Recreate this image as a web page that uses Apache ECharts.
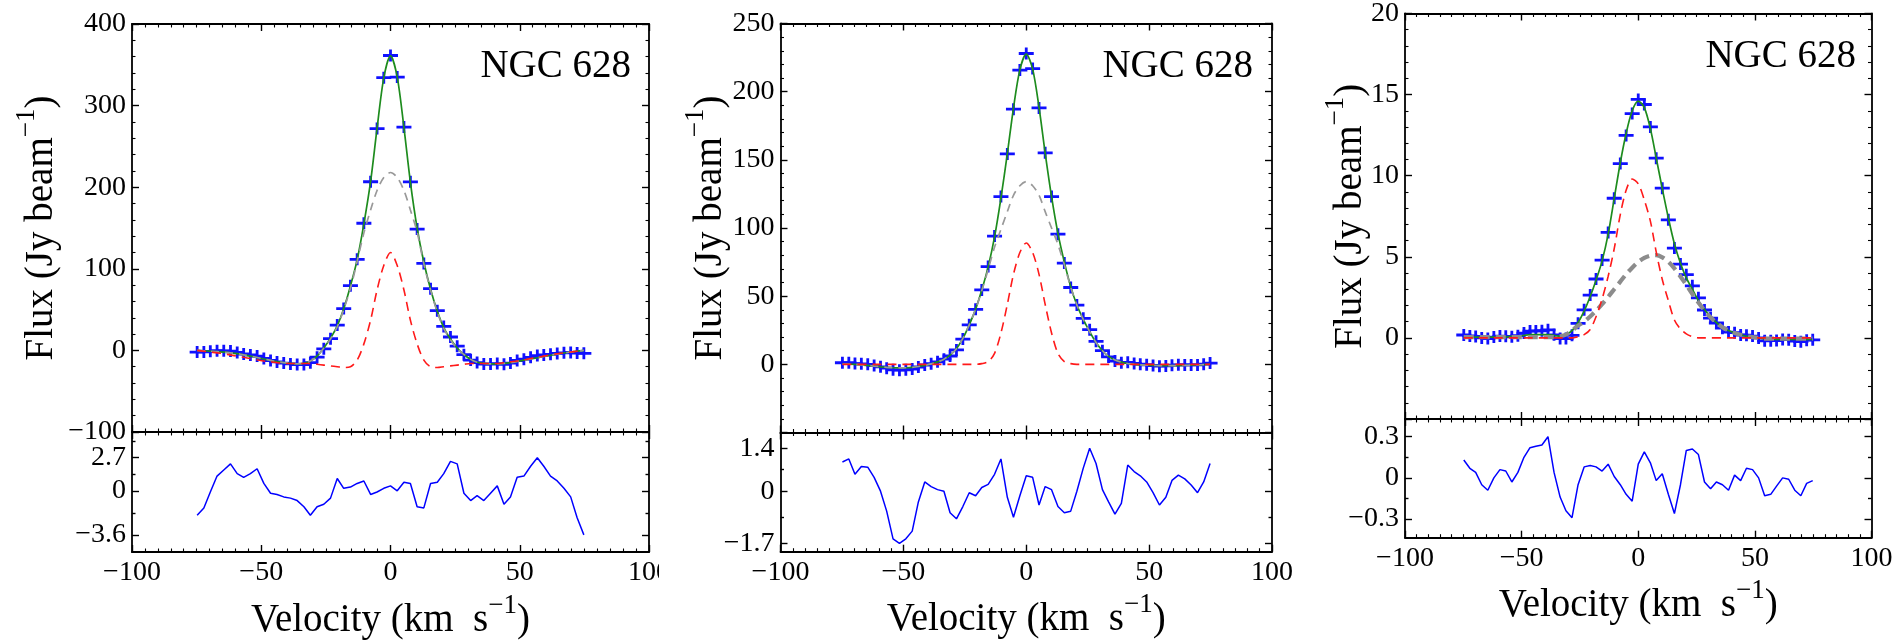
<!DOCTYPE html>
<html><head><meta charset="utf-8">
<script src="https://cdn.jsdelivr.net/npm/echarts@6/dist/echarts.min.js"></script>
<style>html,body{margin:0;padding:0;background:#fff}#c{width:1893px;height:641px}</style>
</head><body><div id="c"></div>
<script>
// ---------- data (velocity channels, km/s) ----------
const velocity = [-74.8,-72.2,-69.7,-67.1,-64.5,-61.9,-59.3,-56.8,-54.2,-51.6,-49.0,-46.4,-43.9,-41.3,-38.7,-36.1,-33.5,-31.0,-28.4,-25.8,-23.2,-20.6,-18.1,-15.5,-12.9,-10.3,-7.7,-5.2,-2.6,0,2.6,5.2,7.7,10.3,12.9,15.5,18.1,20.6,23.2,25.8,28.4,31.0,33.5,36.1,38.7,41.3,43.9,46.4,49.0,51.6,54.2,56.8,59.3,61.9,64.5,67.1,69.7,72.2,74.8];
const velocityTicks = [-100,-50,0,50,100];

// Panel 1
const p1Flux = [-2.0,-1.9,-1.1,-0.3,-0.5,-0.8,-2.6,-4.4,-5.6,-6.9,-9.9,-12.4,-14.1,-15.5,-16.6,-17.3,-17.3,-15.0,-8.3,1.9,14.4,31.0,51.2,79.3,111.6,155.8,206.7,271.9,334.2,361.4,335.0,273.7,206.6,148.7,106.6,75.6,48.7,29.4,16.4,5.2,-5.2,-11.8,-14.9,-16.8,-16.7,-16.1,-17.1,-15.5,-12.4,-10.8,-8.5,-6.3,-5.5,-4.8,-3.7,-3.0,-2.5,-3.2,-3.6];
const p1Fit = [0,-0.5,-1,-1.5,-2.2,-3,-4,-5.5,-7,-8.7,-10.5,-12.2,-13.8,-15,-16,-16.5,-16,-13,-7,3,15,30,51,79,111,155,207,272,334,361,335,273,206,150,108,75,48,28,14,3,-5,-11,-14.5,-16,-16.5,-16.5,-16,-15,-13.5,-12,-10.5,-9,-7.5,-6,-4.5,-3.2,-2,-1,0];
const p1Broad = [0,-0.5,-1,-1.5,-2.2,-3,-4,-5.5,-7,-8.7,-10.5,-12.2,-13.8,-15,-16,-16.5,-16,-13,-7,3,14,29,50,76,109,144,172,196,212,218,212,196,172,145,106,74,47,27,13,2,-5,-11,-14.5,-16,-16.5,-16.5,-16,-15,-13.5,-12,-10.5,-9,-7.5,-6,-4.5,-3.2,-2,-1,0];
const p1Narrow = [0,-1,-2,-3,-4.2,-5.5,-7,-8.5,-10,-11.5,-13,-14,-15,-16,-16,-16,-16,-16,-17,-18,-19,-20,-21,-20,-12,8,37,74,104,120,104,74,37,8,-12,-20,-21,-20,-19,-18,-17,-16,-16,-16,-16,-16,-15,-14,-13,-11.5,-10,-8.5,-7,-5.5,-4.2,-3,-2,-1,0];
const p1Resid = [-2.0,-1.4,-0.1,1.2,1.7,2.2,1.4,1.1,1.4,1.8,0.6,-0.2,-0.3,-0.5,-0.6,-0.8,-1.3,-2.0,-1.3,-1.1,-0.6,1.0,0.2,0.3,0.6,0.8,-0.3,-0.1,0.2,0.4,0.0,0.7,0.6,-1.3,-1.4,0.6,0.7,1.4,2.4,2.2,-0.2,-0.8,-0.4,-0.8,-0.2,0.4,-1.1,-0.5,1.1,1.2,2.0,2.7,2.0,1.2,0.8,0.2,-0.5,-2.2,-3.6];
const p1FluxTicks = [-100,0,100,200,300,400];
const p1ResidTicks = [2.7,0,-3.6];
const p1ResidMinorTicks = [4.05,1.35,-1.8];

// Panel 2
const p2Flux = [1.15,1.15,0.55,0.4,-0.02,-0.85,-1.8,-2.85,-4.05,-4.3,-4.05,-3.5,-1.95,-0.5,0.45,1.85,3.8,6.1,10.6,18.5,28.95,40.35,54.6,71.7,94.05,123.05,154.3,187.15,215.85,228,216.95,188.05,155.15,123.05,95.5,74.3,56.35,43.5,33.75,25.4,16.9,10.05,5.45,2.45,1.2,1.45,0.64,0.1,-0.3,-0.85,-1.35,-1.2,-0.65,-0.38,-0.4,-0.4,-0.45,0.1,0.9];
const p2Fit = [0.2,0.1,0,-0.4,-0.8,-1.3,-1.8,-2.2,-2.5,-2.6,-2.5,-2.2,-1.6,-0.8,0.3,1.8,3.8,6.8,11.5,19,29,40.5,54.5,71.5,93.5,122,154.5,188,216,227.5,216.5,188.5,155,123,96,75,57,43.5,33,24,16,10,5.8,3.2,1.6,0.6,0,-0.4,-0.6,-0.8,-0.9,-1.0,-1.0,-0.9,-0.8,-0.6,-0.4,-0.2,0];
const p2Broad = [0.2,0.1,0,-0.4,-0.8,-1.3,-1.8,-2.2,-2.5,-2.6,-2.5,-2.2,-1.6,-0.8,0.3,1.8,3.8,6.8,11.5,19,29,40.5,54,69.5,86,99,112,124,131,134,131,124,112,100,88,73,56.5,43.5,33,24,16,10,5.8,3.2,1.6,0.6,0,-0.4,-0.6,-0.8,-0.9,-1.0,-1.0,-0.9,-0.8,-0.6,-0.4,-0.2,0];
const p2Narrow = [0,0,0,0,0,0,0,0,0,0,0,0,0,0,0,0,0,0,0,0,0,0,0.5,2,8,23,44,66,82,89,82,66,44,23,8,2,0.5,0,0,0,0,0,0,0,0,0,0,0,0,0,0,0,0,0,0,0,0,0,0];
const p2Resid = [0.95,1.05,0.55,0.8,0.78,0.45,0.0,-0.65,-1.55,-1.7,-1.55,-1.3,-0.35,0.3,0.15,0.05,0.0,-0.7,-0.9,-0.5,-0.05,-0.15,0.12,0.22,0.55,1.05,-0.2,-0.85,-0.15,0.5,0.45,-0.45,0.15,0.05,-0.5,-0.7,-0.65,0.0,0.75,1.4,0.9,0.05,-0.35,-0.75,-0.4,0.85,0.64,0.5,0.3,-0.05,-0.45,-0.2,0.35,0.52,0.4,0.2,-0.05,0.3,0.9];
const p2FluxTicks = [-50,0,50,100,150,200,250];
const p2ResidTicks = [1.4,0,-1.7];
const p2ResidMinorTicks = [0.7,-0.85];

// Panel 3
const p3Flux = [0.18,0.12,0.09,0.0,-0.04,0.05,0.11,0.10,0.07,0.14,0.3,0.42,0.43,0.44,0.5,0.19,-0.04,-0.04,0.16,0.9,1.73,2.64,3.63,4.8,6.5,8.61,10.75,12.48,13.83,14.7,14.39,13.01,11.08,9.23,7.28,5.54,4.55,3.9,3.21,2.47,1.72,1.22,0.92,0.6,0.36,0.32,0.18,0.17,0.11,0.0,-0.18,-0.17,-0.16,-0.1,-0.11,-0.19,-0.23,-0.14,-0.12];
const p3Fit = [0.05,0.05,0.05,0.05,0.05,0.05,0.05,0.05,0.1,0.1,0.15,0.2,0.2,0.2,0.2,0.15,0.1,0.2,0.45,0.95,1.65,2.55,3.55,4.75,6.4,8.6,10.8,12.6,14.0,14.6,14.2,12.9,11.1,9.2,7.4,5.8,4.6,3.7,3.0,2.3,1.75,1.3,0.95,0.65,0.45,0.3,0.2,0.1,0.05,0.0,-0.05,-0.05,-0.1,-0.1,-0.1,-0.1,-0.1,-0.1,-0.1];
const p3Broad = [0.05,0.05,0.05,0.05,0.05,0.05,0.05,0.05,0.05,0.05,0.05,0.05,0.05,0.05,0.05,0.05,0.1,0.2,0.45,0.76,1.0,1.32,1.67,2.08,2.53,3.0,3.47,3.93,4.33,4.68,4.93,5.07,5.1,4.97,4.69,4.29,3.79,3.27,2.71,2.18,1.69,1.27,0.94,0.66,0.45,0.3,0.19,0.12,0.05,0,-0.05,-0.05,-0.05,-0.05,-0.05,-0.05,-0.05,-0.05,-0.05];
const p3Narrow = [0,0,0,0,0,0,0,0,0,0,0,0,0,0,0,0,0,0,0,0.08,0.2,0.52,1.3,2.4,3.8,5.5,7.6,9.1,9.8,9.5,8.5,7.2,5.3,3.6,2.3,1.1,0.55,0.25,0.08,0,0,0,0,0,0,0,0,0,0,0,0,0,0,0,0,0,0,0,0];
const p3Resid = [0.13,0.07,0.04,-0.05,-0.09,0.0,0.06,0.05,-0.03,0.04,0.15,0.22,0.23,0.24,0.3,0.04,-0.14,-0.24,-0.29,-0.05,0.08,0.09,0.08,0.05,0.1,0.01,-0.05,-0.12,-0.17,0.1,0.19,0.11,-0.02,0.03,-0.12,-0.26,-0.05,0.2,0.21,0.17,-0.03,-0.08,-0.03,-0.05,-0.09,0.02,-0.02,0.07,0.06,0.0,-0.13,-0.12,-0.06,0.0,-0.01,-0.09,-0.13,-0.04,-0.02];
const p3FluxTicks = [-5,0,5,10,15,20];
const p3ResidTicks = [0.3,0,-0.3];
const p3ResidMinorTicks = [0.15,-0.15];

const galaxyLabel = 'NGC 628';

// ---------- layout / style ----------
const FONT = 'Liberation Serif';
const INK = '#000';
const fmt = v => (v < 0 ? '\u2212' + Math.abs(v) : String(v));
const zip = (xs, ys) => xs.map((x, i) => [x, ys[i]]);

const panels = [
  {left:132, right:649, top:24, divider:432, bottom:552, fluxTicks:p1FluxTicks, showMin:true,
   resMin:-5.0, resMax:4.8, resTicks:p1ResidTicks, resMinor:p1ResidMinorTicks, fluxGap:62,
   flux:p1Flux, fit:p1Fit, broad:p1Broad, narrow:p1Narrow, resid:p1Resid,
   broadStyle:{color:'#999999', width:1.7, type:[8,6]}, labelX:631, labelY:67},
  {left:780.5, right:1272, top:23.5, divider:432.5, bottom:551.7, fluxTicks:p2FluxTicks, showMin:false,
   resMin:-1.97, resMax:1.91, resTicks:p2ResidTicks, resMinor:p2ResidMinorTicks, fluxGap:41,
   flux:p2Flux, fit:p2Fit, broad:p2Broad, narrow:p2Narrow, resid:p2Resid,
   broadStyle:{color:'#999999', width:1.7, type:[8,6]}, labelX:1253, labelY:67},
  {left:1405, right:1871.5, top:13.5, divider:419, bottom:537.7, fluxTicks:p3FluxTicks, showMin:false,
   resMin:-0.436, resMax:0.429, resTicks:p3ResidTicks, resMinor:p3ResidMinorTicks, fluxGap:26,
   flux:p3Flux, fit:p3Fit, broad:p3Broad, narrow:p3Narrow, resid:p3Resid,
   broadStyle:{color:'#8c8c8c', width:4.2, type:[10,6]}, labelX:1856, labelY:57}
];

const axisLineStyle = {show:true, onZero:false, lineStyle:{color:'#000', width:1.8}};
const tickStyle = {color:'#000', width:1.4};
const labelStyle = {fontFamily:FONT, fontSize:28, color:INK};
const titleRich = {
  t:{fontFamily:FONT, fontSize:39, color:INK},
  s:{fontFamily:FONT, fontSize:27, color:INK, verticalAlign:'top', padding:[0,0,30,0]}
};

const grids = [], xAxes = [], yAxes = [], series = [], graphics = [];

function xAxis(gridIndex, position, labels, extra) {
  return Object.assign({
    type:'value', gridIndex, position, min:velocityTicks[0], max:velocityTicks[velocityTicks.length-1],
    interval:velocityTicks[1]-velocityTicks[0],
    axisLine:axisLineStyle,
    axisTick:{show:true, inside:true, length:7, lineStyle:tickStyle},
    minorTick:{show:true, splitNumber:10, length:3.5, lineStyle:{color:'#000', width:1.1}},
    splitLine:{show:false}, minorSplitLine:{show:false},
    axisLabel:Object.assign({show:labels, margin:7, formatter:fmt}, labelStyle),
    nameMoveOverlap:false
  }, extra || {});
}

panels.forEach((p) => {
  const width = p.right - p.left;
  const gm = grids.length;
  grids.push({left:p.left, top:p.top, width, height:p.divider - p.top, outerBoundsMode:'none', containLabel:false});
  const gr = grids.length;
  grids.push({left:p.left, top:p.divider, width, height:p.bottom - p.divider, outerBoundsMode:'none', containLabel:false});

  const xMain = xAxes.length;
  xAxes.push(xAxis(gm, 'bottom', false));
  xAxes.push(xAxis(gm, 'top', false));
  xAxes.push(xAxis(gr, 'top', false));
  const xRes = xAxes.length;
  xAxes.push(xAxis(gr, 'bottom', true, {
    name:'{t|Velocity (km  s}{s|\u22121}{t|)}', nameLocation:'middle', nameGap:40,
    nameTextStyle:{rich:titleRich}
  }));

  const ft = p.fluxTicks;
  const mainY = (position, labels, extra) => Object.assign({
    type:'value', gridIndex:gm, position, min:ft[0], max:ft[ft.length-1], interval:ft[1]-ft[0],
    axisLine:axisLineStyle,
    axisTick:{show:true, inside:true, length:7, lineStyle:tickStyle},
    minorTick:{show:true, splitNumber:5, length:3.5, lineStyle:{color:'#000', width:1.1}},
    splitLine:{show:false}, minorSplitLine:{show:false},
    axisLabel:Object.assign({show:labels, margin:6, showMinLabel:p.showMin, formatter:fmt}, labelStyle),
    nameMoveOverlap:false
  }, extra || {});
  const yMain = yAxes.length;
  yAxes.push(mainY('left', true, {
    name:'{t|Flux (Jy beam}{s|\u22121}{t|)}', nameLocation:'middle', nameRotate:90, nameGap:p.fluxGap,
    nameTextStyle:{rich:titleRich}
  }));
  yAxes.push(mainY('right', false));

  const resY = (position, labels, ticks, len, line) => ({
    type:'value', gridIndex:gr, position, min:p.resMin, max:p.resMax,
    axisLine: line ? axisLineStyle : {show:false, onZero:false},
    axisTick:{show:true, inside:true, length:len, lineStyle:tickStyle, customValues:ticks},
    splitLine:{show:false},
    axisLabel:Object.assign({show:labels, margin:6, formatter:fmt, customValues:ticks}, labelStyle)
  });
  const yRes = yAxes.length;
  yAxes.push(resY('left', true, p.resTicks, 7, true));
  yAxes.push(resY('right', false, p.resTicks, 7, true));
  yAxes.push(resY('left', false, p.resMinor, 3.5, false));
  yAxes.push(resY('right', false, p.resMinor, 3.5, false));

  const common = {xAxisIndex:xMain, yAxisIndex:yMain, silent:true, animation:false};
  series.push(Object.assign({type:'line', data:zip(velocity, p.fit), showSymbol:false, smooth:0.3,
    lineStyle:{color:'#1e8c1e', width:1.7}}, common));
  series.push(Object.assign({type:'scatter', data:zip(velocity, p.flux),
    symbol:'path://M0 4.6H15V7.4H0Z M6.1 0H8.9V12H6.1Z', symbolSize:[15,12],
    itemStyle:{color:'#1010ff', opacity:1}}, common));
  series.push(Object.assign({type:'line', data:zip(velocity, p.broad), showSymbol:false, smooth:0.3,
    lineStyle:p.broadStyle}, common));
  series.push(Object.assign({type:'line', data:zip(velocity, p.narrow), showSymbol:false, smooth:0.3,
    lineStyle:{color:'#ff1a1a', width:1.6, type:[9,6]}}, common));
  series.push({type:'line', xAxisIndex:xRes, yAxisIndex:yRes, data:zip(velocity, p.resid), showSymbol:false,
    lineStyle:{color:'#0000ff', width:1.5}, silent:true, animation:false});

  graphics.push({type:'text', x:p.labelX, y:p.labelY, z:50,
    style:{text:galaxyLabel, fontFamily:FONT, fontSize:39, fill:INK,
      align:'right', verticalAlign:'middle', textAlign:'right', textVerticalAlign:'middle'}});
});

// first panel's "100" tick label is cut by the neighbouring panel in the original figure
graphics.push({type:'rect', z:100, shape:{x:659, y:556, width:40, height:44}, style:{fill:'#fff'}});

const chart = echarts.init(document.getElementById('c'), null, {renderer:'canvas'});
chart.setOption({
  animation:false,
  backgroundColor:'#fff',
  grid:grids, xAxis:xAxes, yAxis:yAxes, series, graphic:graphics
});
</script></body></html>
